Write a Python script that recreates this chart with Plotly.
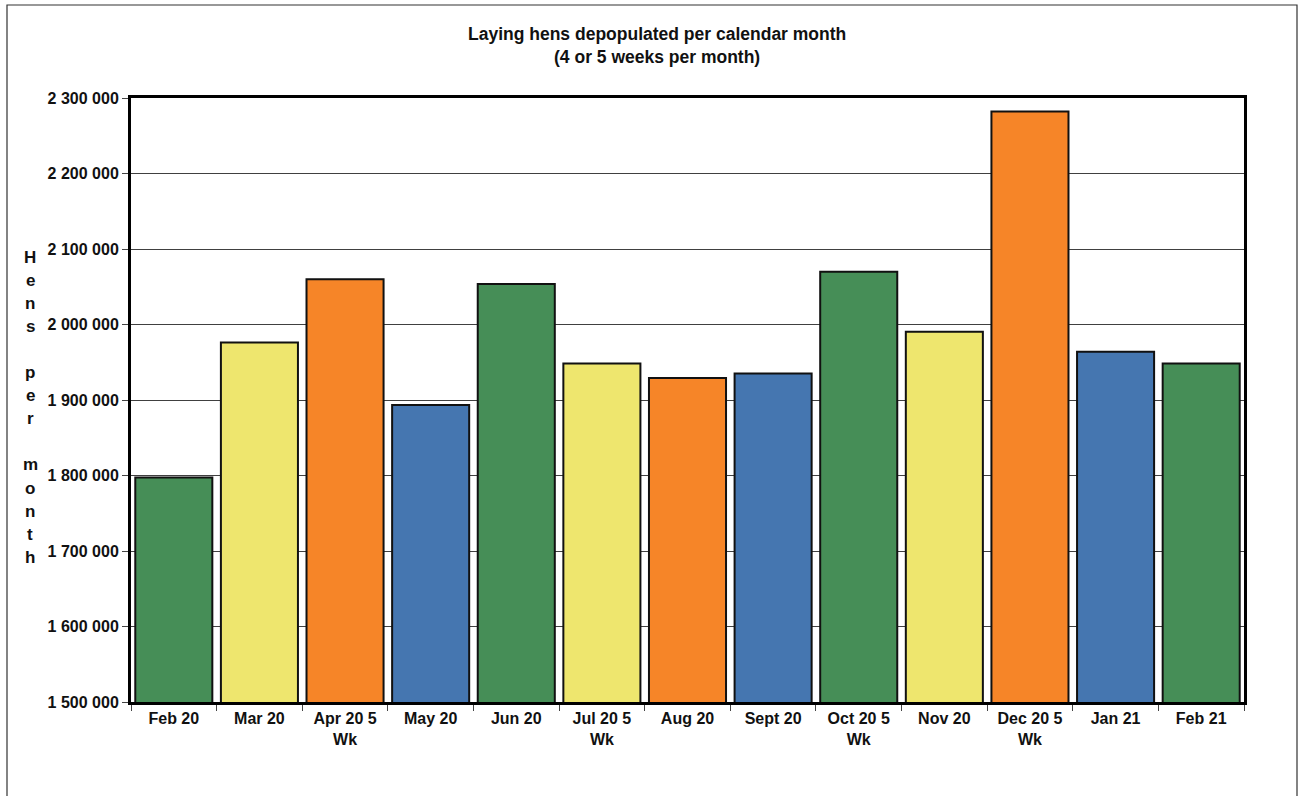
import plotly.graph_objects as go

# ---- data ----
categories = ["Feb 20", "Mar 20", "Apr 20 5<br>Wk", "May 20", "Jun 20", "Jul 20 5<br>Wk",
              "Aug 20", "Sept 20", "Oct 20 5<br>Wk", "Nov 20", "Dec 20 5<br>Wk", "Jan 21", "Feb 21"]
hens = [1797500, 1976000, 2060000, 1893500, 2053500, 1948500,
        1929000, 1935000, 2070000, 1990500, 2282000, 1964000, 1948500]
palette = ["#468E57", "#EEE66E", "#F68528", "#4576B0"]
bar_colors = [palette[i % 4] for i in range(len(categories))]
y_ticks = [1500000, 1600000, 1700000, 1800000, 1900000, 2000000, 2100000, 2200000, 2300000]
title_text = "Laying hens depopulated per calendar month<br>(4 or 5 weeks per month)"
ylabel_lines = ["H", "e", "n", "s", "", "p", "e", "r", "", "m", "o", "n", "t", "h"]

W, H = 1299, 796
ML, MR, MT, MB = 131, 55, 98, 94
PW, PH = W - ML - MR, H - MT - MB

def px_x(px):
    return (px - ML) / PW

def px_y(py):
    return (H - MB - py) / PH

font_family = "Liberation Sans, Arial, sans-serif"

fig = go.Figure()
fig.add_trace(go.Bar(
    x=categories, y=hens,
    marker=dict(color=bar_colors, line=dict(color="#111111", width=2)),
    width=0.9,
    showlegend=False,
))

annotations = [dict(
    text="<b>" + title_text + "</b>", x=px_x(657), y=px_y(45), xref="paper", yref="paper",
    xanchor="center", yanchor="middle", showarrow=False,
    font=dict(family=font_family, size=17.5, color="#111111"))]

for i, ch in enumerate(ylabel_lines):
    if ch:
        annotations.append(dict(
            text="<b>" + ch + "</b>", x=px_x(30), y=px_y(257 + i * 23.1),
            xref="paper", yref="paper", xanchor="center", yanchor="middle",
            showarrow=False, font=dict(family=font_family, size=17, color="#111111")))

fig.update_layout(
    width=W, height=H,
    margin=dict(l=ML, r=MR, t=MT, b=MB, pad=0),
    paper_bgcolor="white", plot_bgcolor="white",
    separators=". ",
    font=dict(family=font_family, size=16, color="#111111"),
    annotations=annotations,
    shapes=[dict(type="rect", xref="paper", yref="paper",
                 x0=px_x(7), x1=px_x(1297), y0=px_y(820), y1=px_y(5),
                 line=dict(color="#333333", width=1.2), layer="below")],
    bargap=0.1,
)

fig.update_xaxes(
    showline=True, linecolor="black", linewidth=3, mirror=True,
    ticks="outside", tickson="boundaries", ticklen=6, tickcolor="#444444", tickwidth=1,
    tickfont=dict(family=font_family, size=16, color="#111111", weight="bold"),
    showgrid=False,
)
fig.update_yaxes(
    range=[1500000, 2300000],
    tickvals=y_ticks, tickformat=",d",
    showline=True, linecolor="black", linewidth=3, mirror=True,
    ticks="outside", ticklen=6, tickcolor="#444444", tickwidth=1,
    tickfont=dict(family=font_family, size=16, color="#111111", weight="bold"),
    showgrid=True, gridcolor="#404040", gridwidth=1,
    zeroline=False,
)

fig.write_html("out.html")
